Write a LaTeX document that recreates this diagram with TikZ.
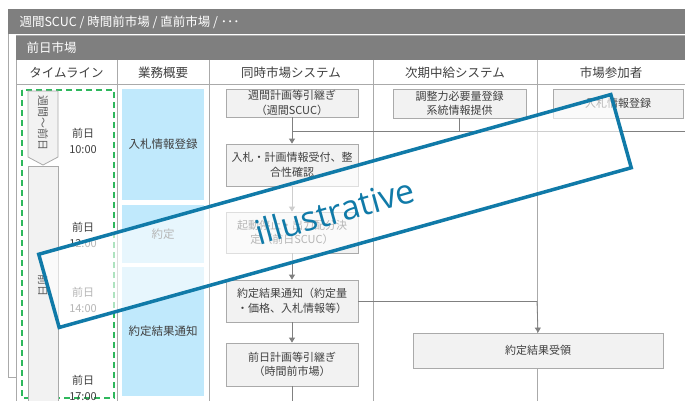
\documentclass[tikz,border=0pt]{standalone}
\usepackage{fontspec}
\setmainfont{Noto Sans CJK JP}
\newfontfamily\stampfont{Open Sans}
\usetikzlibrary{arrows.meta}
\definecolor{barg}{RGB}{127,127,127}
\definecolor{txtg}{RGB}{64,64,64}
\definecolor{lineg}{RGB}{170,170,170}
\definecolor{boxf}{RGB}{242,242,242}
\definecolor{bluef}{RGB}{192,233,252}
\definecolor{greend}{RGB}{46,184,92}
\definecolor{stampb}{RGB}{16,122,168}
\definecolor{connc}{RGB}{128,128,128}
\tikzset{
  procbox/.style={draw=lineg, fill=boxf, text=txtg, align=center,
    font=\fontsize{11}{14.5}\selectfont, inner sep=1pt, line width=0.8pt},
  bluebox/.style={fill=bluef, text=txtg, align=center,
    font=\fontsize{11.5}{14.5}\selectfont, inner sep=0pt},
  colhead/.style={text=txtg, font=\fontsize{12.5}{15}\selectfont},
  timelbl/.style={text=txtg, align=center, font=\fontsize{11}{16}\selectfont},
  conn/.style={draw=connc, line width=0.8pt},
  arr/.style={conn, -{Triangle[width=6pt,length=5pt]}},
  gridline/.style={draw=lineg, line width=0.8pt},
}
\begin{document}
\begin{tikzpicture}[x=1pt,y=-1pt]
\useasboundingbox (0,0) rectangle (685,400);
\clip (0,0) rectangle (685,400);
% outer panel
\draw[gridline, fill=white] (8.5,9) rectangle (700,377);
\fill[barg] (8,9) rectangle (690,34);
\node[anchor=west, text=white, font=\fontsize{12.5}{15}\selectfont] (toptitle) at (16,22) {週間SCUC / 時間前市場 / 直前市場 / ･･･};
% inner panel
\draw[gridline, fill=white] (16.5,35.5) rectangle (700,420);
\fill[barg] (16,35.5) rectangle (690,60);
\node[anchor=west, text=white, font=\fontsize{12.5}{15}\selectfont] (subtitle) at (23,47.5) {前日市場};
% header row and column lines
\draw[gridline] (16.5,84.5) -- (690,84.5);
\foreach \cx in {117,209,373,537}{
  \draw[gridline] (\cx,60) -- (\cx,420);
}
\node[colhead] (h1) at (66.5,72.5) {タイムライン};
\node[colhead] (h2) at (163,72.5) {業務概要};
\node[colhead] (h3) at (291,72.5) {同時市場システム};
\node[colhead] (h4) at (455,72.5) {次期中給システム};
\node[colhead] (h5) at (611,72.5) {市場参加者};
% timeline
\draw[greend, line width=1.6pt, dash pattern=on 6pt off 4pt] (22,90) rectangle (114,398);
\draw[gridline, fill=boxf] (28,91) -- (58,91) -- (58,157) -- (43,165) -- (28,157) -- cycle;
\node[rotate=-90, text=txtg!85, font=\fontsize{11}{13}\selectfont] (tlw) at (43,123) {週間～前日};
\draw[gridline, fill=boxf] (28,166.5) rectangle (58,420);
\node[rotate=-90, text=txtg!85, font=\fontsize{11}{13}\selectfont] (tld) at (43,285) {前日};
\node[timelbl] (t1) at (83,141) {前日\\10:00};
\node[timelbl] (t2) at (83,235) {前日\\12:00};
\node[timelbl] (t3) at (83,300) {前日\\14:00};
\node[timelbl] (t4) at (83,388) {前日\\17:00};
% business overview
\node[bluebox, minimum width=82pt, minimum height=111pt] (a1) at (163,144.5) {入札情報登録};
\node[bluebox, minimum width=82pt, minimum height=58pt] (a2) at (163,234) {約定};
\node[bluebox, minimum width=82pt, minimum height=129pt] (a3) at (163,331.5) {約定結果通知};
% connectors behind boxes
\coordinate (j1) at (292,131);
\coordinate (j2) at (690,131);
\coordinate (bend) at (537,301);
\coordinate (bot) at (292,410);
\draw[conn] (j1) -- (j2);
% simultaneous market system
\node[procbox, minimum width=132pt, minimum height=28pt] (b1) at (292,103) {週間計画等引継ぎ\\（週間SCUC）};
\node[procbox, minimum width=132pt, minimum height=42pt] (b2) at (292,165) {入札・計画情報受付、整\\合性確認};
\node[procbox, minimum width=132pt, minimum height=41pt] (b3) at (292,232.5) {起動停止・出力配分決\\定（前日SCUC）};
\node[procbox, minimum width=132pt, minimum height=42pt] (b4) at (292,301) {約定結果通知（約定量\\・価格、入札情報等）};
\node[procbox, minimum width=132pt, minimum height=43pt] (b5) at (292,364.5) {前日計画等引継ぎ\\（時間前市場）};
% next central dispatch system
\node[procbox, minimum width=133pt, minimum height=29pt] (c1) at (459.5,103.5) {調整力必要量登録\\系統情報提供};
% market participants
\node[procbox, minimum width=130pt, minimum height=29pt] (p1) at (618,103.5) {入札情報登録};
\node[procbox, minimum width=250pt, minimum height=35pt] (r1) at (538,350.5) {約定結果受領};
% connectors
\draw[arr] (b1.south) -- (b2.north);
\draw[conn] (c1.south) -- (c1.south |- j1);
\draw[arr] (b2.south) -- (b3.north);
\draw[arr] (b3.south) -- (b4.north);
\draw[conn] (b4.east) -- (bend);
\draw[arr] (bend) -- (r1.north);
\draw[arr] (b4.south) -- (b5.north);
\draw[conn] (b5.south) -- (bot);
% stamp
\node[draw=stampb, line width=3.5pt, fill=white, fill opacity=0.62, text opacity=1,
  rotate=15.6, minimum width=594pt, minimum height=76pt, inner sep=0pt,
  text=stampb, font=\stampfont\fontsize{34}{34}\selectfont] (stamp) at (335,211) {illustrative};
\end{tikzpicture}
\end{document}
